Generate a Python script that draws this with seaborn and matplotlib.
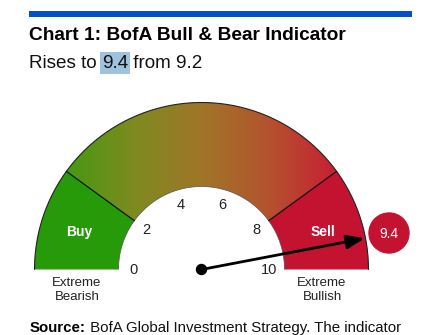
import numpy as np
import matplotlib
matplotlib.use("Agg")
import matplotlib.pyplot as plt
from matplotlib.patches import Polygon, Circle
import seaborn as sns

# ---- data ----
tick_values = [0, 2, 4, 6, 8, 10]
tick_labels = ["0", "2", "4", "6", "8", "10"]
zone_bounds = [0, 2, 8, 10]           # Buy | gradient | Sell
zone_labels = ["Buy", "", "Sell"]
current_value = 9.4
previous_value = 9.2
end_labels = ["Extreme\nBearish", "Extreme\nBullish"]
title = "Chart 1: BofA Bull & Bear Indicator"
subtitle_parts = ["Rises to ", "9.4", " from 9.2"]
source_bold = "Source:"
source_text = " BofA Global Investment Strategy. The indicator"

sns.set_theme(style="white")
FONT = ["Liberation Sans Narrow", "Liberation Sans", "DejaVu Sans"]
plt.rcParams["font.family"] = FONT

GREEN = "#269A08"
RED = "#C41331"
grad_cmap = sns.blend_palette(["#459A12", "#7E8A20", "#A07628", "#B4522E", "#C81F33"], as_cmap=True)

fig = plt.figure(figsize=(4.4, 3.35), dpi=100)
ax = fig.add_axes([0, 0, 1, 1])
ax.set_xlim(0, 440)
ax.set_ylim(335, 0)
ax.axis("off")

cx, cy = 201.5, 269.5
r_in, r_out = 83, 167


def ang(v):
    return np.deg2rad(180 - 18 * v)


def pt(v, r):
    a = ang(v)
    return cx + r * np.cos(a), cy - r * np.sin(a)


def sector(v0, v1, n=120):
    vs = np.linspace(v0, v1, n)
    outer = [pt(v, r_out) for v in vs]
    inner = [pt(v, r_in) for v in vs[::-1]]
    return np.array(outer + inner)


def right_edge(t):
    fig.canvas.draw()
    bb = t.get_window_extent()
    return ax.transData.inverted().transform((bb.x1, 0))[0]


# header bar
ax.add_patch(plt.Rectangle((29, 11), 383, 6, color="#0050C8", lw=0))
ax.text(29, 36, title, fontsize=13.8, fontweight="bold", va="center", ha="left", color="black")
# subtitle with highlighted 9.4
t0 = ax.text(29, 63, subtitle_parts[0], fontsize=13.6, va="center", ha="left", color="#111111")
x1 = right_edge(t0)
t1 = ax.text(x1, 63, subtitle_parts[1], fontsize=13.6, va="center", ha="left", color="#111111",
             bbox=dict(boxstyle="square,pad=0.12", fc="#9DC3DE", ec="none"))
x2 = right_edge(t1)
ax.text(x2, 63, subtitle_parts[2], fontsize=13.6, va="center", ha="left", color="#111111")

# zones
buy = Polygon(sector(zone_bounds[0], zone_bounds[1]), closed=True, fc=GREEN, ec="none")
sell = Polygon(sector(zone_bounds[2], zone_bounds[3]), closed=True, fc=RED, ec="none")
ax.add_patch(buy)
ax.add_patch(sell)
mid = Polygon(sector(zone_bounds[1], zone_bounds[2]), closed=True, fc="none", ec="none")
ax.add_patch(mid)
grad = np.linspace(0, 1, 256).reshape(1, -1)
x_left = pt(zone_bounds[1], r_out)[0]
x_right = pt(zone_bounds[2], r_out)[0]
im = ax.imshow(grad, cmap=grad_cmap, extent=[x_left, x_right, cy, cy - r_out - 2],
               aspect="auto", interpolation="bilinear", zorder=1)
im.set_clip_path(mid)
ax.set_xlim(0, 440)
ax.set_ylim(335, 0)

# outlines
vs = np.linspace(0, 10, 300)
o = np.array([pt(v, r_out) for v in vs])
ax.plot(o[:, 0], o[:, 1], color="#222222", lw=0.8, zorder=3)
i = np.array([pt(v, r_in) for v in vs])
ax.plot(i[:, 0], i[:, 1], color="#555555", lw=0.5, zorder=3)
for b in zone_bounds[1:3]:
    p0, p1 = pt(b, r_in), pt(b, r_out)
    ax.plot([p0[0], p1[0]], [p0[1], p1[1]], color="#111111", lw=0.9, zorder=3)

# zone labels
for k, lab in enumerate(zone_labels):
    if lab:
        vmid = (zone_bounds[k] + zone_bounds[k + 1]) / 2
        x, _ = pt(vmid, 125)
        ax.text(x - (3 if k == 0 else -3), 232, lab, color="white", fontsize=10, fontweight="bold",
                ha="center", va="center", zorder=4)

# ticks
for v, lab in zip(tick_values, tick_labels):
    x, y = pt(v, 68)
    ax.text(x, y, lab, fontsize=10.5, ha="center", va="center", color="#222222", zorder=4)

# end labels
ax.text(77, 290, end_labels[0], fontsize=9.5, ha="center", va="center", color="#222222", linespacing=1.25)
ax.text(322, 290, end_labels[1], fontsize=9.5, ha="center", va="center", color="#222222", linespacing=1.25)

# needle
tip = pt(current_value, r_out - 1)
ax.annotate("", xy=tip, xytext=(cx, cy),
            arrowprops=dict(arrowstyle="-|>,head_length=0.9,head_width=0.35", color="black", lw=2,
                            shrinkA=0, shrinkB=0), zorder=5)
ax.add_patch(Circle((cx, cy), 5, color="black", zorder=6))

# badge
ax.add_patch(Circle((389, 233), 20, color=RED, zorder=4))
ax.text(389, 233.5, f"{current_value:.1f}", color="white", fontsize=10, ha="center", va="center", zorder=5)

# source
ts = ax.text(30, 328, source_bold, fontsize=10.8, fontweight="bold", va="center", ha="left", color="black")
xs = right_edge(ts)
ax.text(xs, 328, source_text, fontsize=10.8, va="center", ha="left", color="#111111")

fig.savefig("out.png", dpi=100)
